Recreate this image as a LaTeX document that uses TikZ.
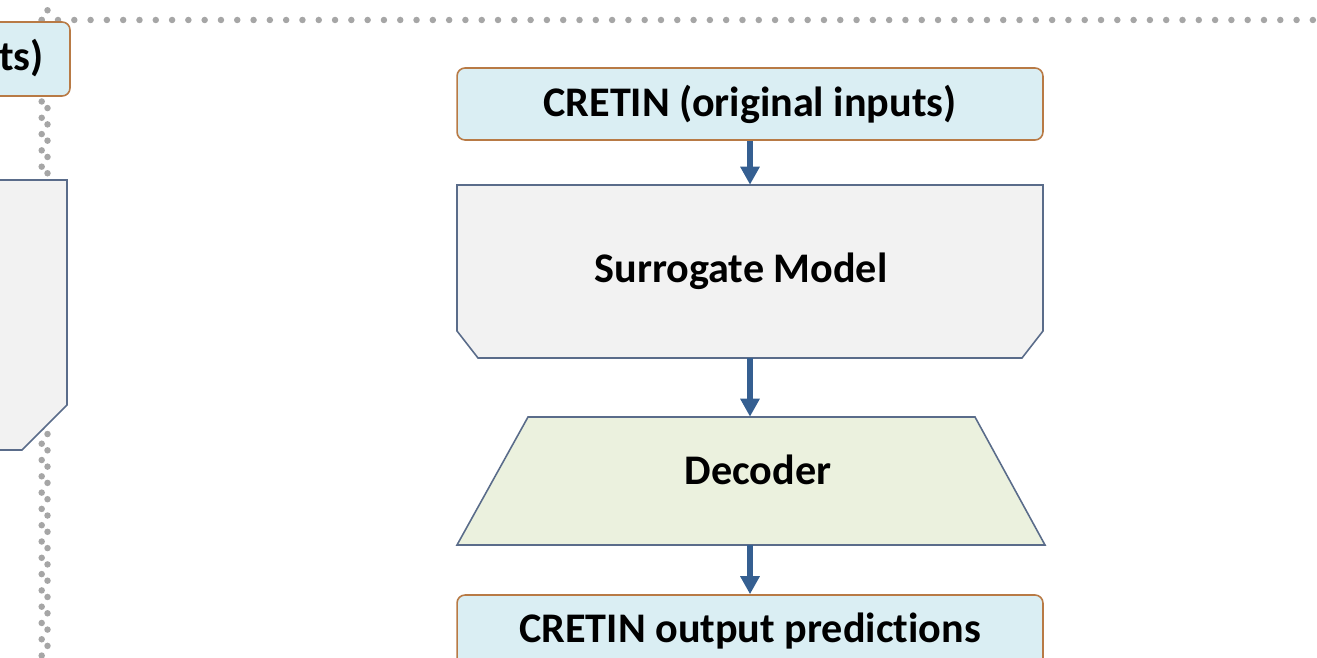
\documentclass[tikz,border=0pt]{standalone}
\usepackage{fontspec}
\setmainfont{Carlito}[Ligatures=NoCommon]
\usetikzlibrary{arrows.meta}

\definecolor{ioblue}{RGB}{218,238,243}
\definecolor{iobrown}{RGB}{184,122,69}
\definecolor{modelgray}{RGB}{242,242,242}
\definecolor{edgeslate}{RGB}{90,108,138}
\definecolor{decgreen}{RGB}{235,241,222}
\definecolor{flowblue}{RGB}{53,95,145}
\definecolor{dotgray}{RGB}{166,166,166}

\begin{document}
\begin{tikzpicture}[x=0.02cm, y=-0.02cm,
    every node/.style={font=\fontsize{24}{28}\selectfont\bfseries},
    io/.style={draw=iobrown, fill=ioblue, line width=0.9pt, rounded corners=4.5pt,
      minimum width=11.72cm, minimum height=1.44cm},
    model/.style={draw=edgeslate, fill=modelgray, line width=0.9pt},
    decbox/.style={draw=edgeslate, fill=decgreen, line width=0.9pt},
    flow/.style={draw=flowblue, line width=3.6pt, -{Triangle[length=0.36cm,width=0.37cm]}},
    dots/.style={draw=dotgray, line width=0.13cm, line cap=round, dash pattern=on 0pt off 0.326cm}]
  \useasboundingbox (0,0) rectangle (1317,658);
  \clip (0,0) rectangle (1317,658);

  % frame of the two panels
  \draw[dots] (41.7,20) -- (1330,20);
  \draw[dots] (41.7,20) -- (41.7,670);
  \draw[dots] (47.5,-6) -- (47.5,670);

  % left panel, cut at the edge
  \draw[io] (-40,22) rectangle (70,96);
  \node[anchor=east, inner xsep=0pt] (lin) at (44,58) {ts)};
  \filldraw[model] (-40,180) -- (67,180) -- (67,405) -- (22,450) -- (-40,450) -- cycle;

  % right panel
  \node[io] (in) at (750,104) {CRETIN (original inputs)};
  \filldraw[model] (457,185) -- (1043,185) -- (1043,331) -- (1022,358)
    -- (478,358) -- (457,331) -- cycle;
  \node[minimum width=11.72cm, minimum height=3.46cm] (sm) at (750,271.5) {};
  \node (smtext) at (741,271) {Surrogate Model};
  \filldraw[decbox] (528,417) -- (975,417) -- (1045,545) -- (457,545) -- cycle;
  \node[minimum width=11.76cm, minimum height=2.56cm] (dec) at (750,481) {};
  \node (dectext) at (758,470) {Decoder};
  \node[io] (out) at (750,631) {CRETIN output predictions};

  \draw[flow] (in.south) -- (sm.north);
  \draw[flow] (sm.south) -- (dec.north);
  \draw[flow] (dec.south) -- (out.north);
\end{tikzpicture}
\end{document}
